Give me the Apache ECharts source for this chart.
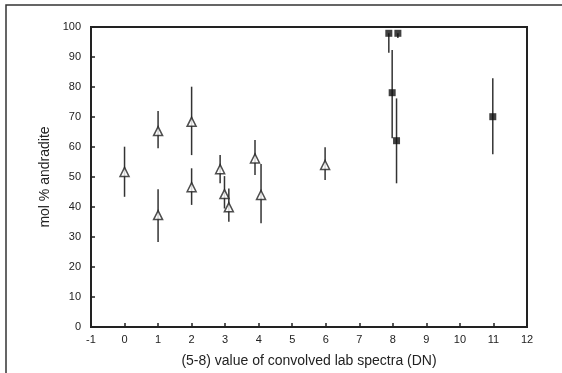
<!DOCTYPE html>
<html><head><meta charset="utf-8">
<script src="https://cdn.jsdelivr.net/npm/echarts@6/dist/echarts.min.js"></script>
<style>html,body{margin:0;padding:0;background:#fff}#c{width:562px;height:373px}</style>
</head><body><div id="c"></div>
<script>
// Open triangles: [x, y, errLow, errHigh]
const triX = [0, 1, 1, 2, 2, 2.85, 2.98, 3.11, 3.89, 4.07, 5.98];
const triY = [51.7, 65.3, 37.3, 68.4, 46.6, 52.6, 44.3, 39.9, 56.2, 44.0, 54.0];
const triLo = [43.4, 59.6, 28.3, 57.3, 40.7, 47.9, 39.5, 35.1, 50.7, 34.6, 49.0];
const triHi = [60.1, 72.0, 45.9, 80.1, 52.9, 57.3, 50.3, 46.2, 62.3, 54.3, 59.9];
// Filled squares
const sqX = [7.88, 8.15, 7.98, 8.11, 10.98];
const sqY = [97.9, 97.9, 78.1, 62.1, 70.1];
const sqLo = [91.4, 96.3, 62.9, 47.9, 57.6];
const sqHi = [97.9, 97.9, 92.3, 76.2, 82.9];
const xTicks = [-1,0,1,2,3,4,5,6,7,8,9,10,11,12];
const yTicks = [0,10,20,30,40,50,60,70,80,90,100];

const errData = [];
triX.forEach((x,i)=>errData.push([x, triLo[i], triHi[i]]));
sqX.forEach((x,i)=>errData.push([x, sqLo[i], sqHi[i]]));

const chart = echarts.init(document.getElementById('c'));
const font = 'Liberation Sans, Arial, sans-serif';
chart.setOption({
  animation:false,
  backgroundColor:'#fff',
  graphic:[{type:'rect',shape:{x:6,y:5,width:600,height:400},style:{fill:'none',stroke:'#333',lineWidth:1.5},z:-1}],
  grid:{left:91,top:27,right:35,bottom:45,show:true,borderColor:'#222',borderWidth:2,backgroundColor:'transparent'},
  xAxis:{type:'value',min:-1,max:12,interval:1,
    name:'(5-8) value of convolved lab spectra (DN)',nameLocation:'middle',nameGap:27,
    nameTextStyle:{fontFamily:font,fontSize:14,color:'#222'},
    axisLine:{show:true,onZero:false,lineStyle:{color:'#222',width:2}},
    axisTick:{show:true,inside:true,length:4,lineStyle:{color:'#222',width:1.5}},
    axisLabel:{fontFamily:font,fontSize:11,color:'#222',margin:7,formatter:v=>xTicks.includes(v)?String(v):''},
    splitLine:{show:false}},
  yAxis:{type:'value',min:0,max:100,interval:10,
    name:'mol % andradite',nameLocation:'middle',nameGap:37,
    nameTextStyle:{fontFamily:font,fontSize:14,color:'#222'},
    axisLine:{show:true,onZero:false,lineStyle:{color:'#222',width:2}},
    axisTick:{show:true,inside:true,length:4,lineStyle:{color:'#222',width:1.5}},
    axisLabel:{fontFamily:font,fontSize:11,color:'#222',margin:10,formatter:v=>yTicks.includes(v)?String(v):''},
    splitLine:{show:false}},
  series:[
    {type:'custom',data:errData,z:1,
      renderItem:(params,api)=>{
        const a=api.coord([api.value(0),api.value(1)]);
        const b=api.coord([api.value(0),api.value(2)]);
        return {type:'line',shape:{x1:a[0],y1:a[1],x2:b[0],y2:b[1]},style:{stroke:'#333',lineWidth:1.5}};
      }},
    {type:'scatter',data:triX.map((x,i)=>[x,triY[i]]),symbol:'triangle',symbolSize:9,z:3,
      itemStyle:{color:'#fff',borderColor:'#222',borderWidth:1.5}},
    {type:'scatter',data:sqX.map((x,i)=>[x,sqY[i]]),symbol:'rect',symbolSize:7,z:3,
      itemStyle:{color:'#111'}}
  ]
});
</script></body></html>
